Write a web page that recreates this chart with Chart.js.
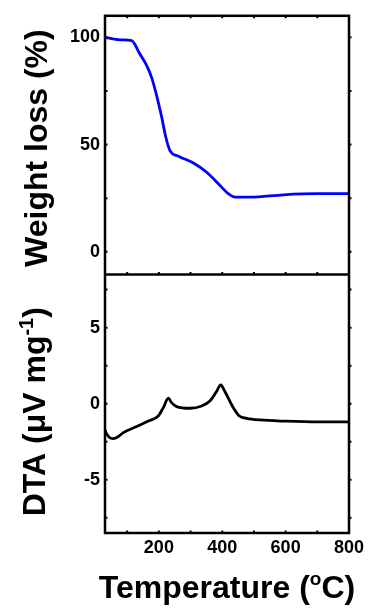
<!DOCTYPE html>
<html>
<head>
<meta charset="utf-8">
<title>TG / DTA</title>
<script src="https://cdn.jsdelivr.net/npm/chart.js@4/dist/chart.umd.min.js"></script>
<style>
  html, body { margin: 0; padding: 0; background: #fff; }
  canvas { display: block; }
</style>
</head>
<body>
<canvas id="chart" width="371" height="610"></canvas>
<script>
// Thermogravimetric curve: temperature (°C) and remaining weight (%)
const tgTemp   = [30, 83, 114, 140, 162, 177, 193, 209, 222, 235, 262, 309, 351, 393, 419, 440, 488, 593, 698, 800];
const tgWeight = [100, 98.8, 98.4, 92.2, 86.7, 81.3, 72.8, 62.7, 53.4, 47.2, 44.6, 41.4, 37.1, 30.9, 27.1, 25.5, 25.5, 26.6, 27.1, 27.1];

// Differential thermal analysis curve: temperature (°C) and signal (µV mg⁻¹)
const dtaTemp   = [30, 33, 54, 67, 88, 130, 167, 198, 214, 230, 240, 256, 298, 335, 361, 383, 395, 409, 435, 454, 477, 519, 600, 700, 800];
const dtaSignal = [-1.7, -1.9, -2.3, -2.23, -1.9, -1.5, -1.14, -0.81, -0.26, 0.36, 0.07, -0.19, -0.3, -0.15, 0.18, 0.84, 1.23, 0.77, -0.26, -0.81, -0.96, -1.07, -1.15, -1.2, -1.2];

// Tick marks and the subset that carries a label
const tempTicks    = [100, 200, 300, 400, 500, 600, 700, 800];
const tempLabels   = [200, 400, 600, 800];
const weightTicks  = [0, 25, 50, 75, 100];
const weightLabels = [0, 50, 100];
const dtaTicks     = [-7.5, -5, -2.5, 0, 2.5, 5, 7.5];
const dtaLabels    = [-5, 0, 5];

const FONT = "'Liberation Sans', Arial, Helvetica, sans-serif";
const tickFont = { family: FONT, size: 18, weight: 'bold' };

const toPoints = (xs, ys) => xs.map((x, i) => ({ x, y: ys[i] }));
const setTicks = values => scale => { scale.ticks = values.map(v => ({ value: v })); };
const labelOnly = labels => value => (labels.includes(value) ? String(value) : '');

// Frame, inner tick marks and axis titles are drawn by this plugin
const framePlugin = {
  id: 'frame',
  afterDraw(chart) {
    const ctx = chart.ctx;
    const area = chart.chartArea;
    const x = chart.scales.x, yTop = chart.scales.yWeight, yBot = chart.scales.yDta;
    const mid = yTop.bottom;
    const tick = 2.5;
    ctx.save();
    ctx.strokeStyle = '#000';
    ctx.lineWidth = 2.5;
    ctx.strokeRect(area.left, area.top, area.right - area.left, area.bottom - area.top);
    ctx.beginPath();
    ctx.moveTo(area.left, mid);
    ctx.lineTo(area.right, mid);
    ctx.stroke();

    ctx.lineWidth = 2;
    ctx.beginPath();
    tempTicks.forEach(v => {
      const px = x.getPixelForValue(v);
      ctx.moveTo(px, area.bottom); ctx.lineTo(px, area.bottom - tick);
      ctx.moveTo(px, mid);         ctx.lineTo(px, mid - tick);
      ctx.moveTo(px, area.top);    ctx.lineTo(px, area.top + tick);
    });
    [[yTop, weightTicks], [yBot, dtaTicks]].forEach(([s, vals]) => {
      vals.forEach(v => {
        const py = s.getPixelForValue(v);
        ctx.moveTo(area.left, py);  ctx.lineTo(area.left + tick, py);
        ctx.moveTo(area.right, py); ctx.lineTo(area.right + tick, py);
      });
    });
    ctx.stroke();

    // Axis titles
    ctx.fillStyle = '#000';
    ctx.textBaseline = 'alphabetic';
    const big = `bold 32px ${FONT}`;
    const small = `bold 20px ${FONT}`;

    // Weight loss (%)
    ctx.save();
    ctx.translate(47, (yTop.top + yTop.bottom) / 2 + 3);
    ctx.rotate(-Math.PI / 2);
    ctx.font = big;
    ctx.textAlign = 'center';
    ctx.fillText('Weight loss (%)', 0, 0);
    ctx.restore();

    // DTA (µV mg⁻¹) with a raised exponent
    ctx.save();
    ctx.translate(45, (yBot.top + yBot.bottom) / 2 + 8);
    ctx.rotate(-Math.PI / 2);
    ctx.textAlign = 'left';
    ctx.font = big;
    const a = 'DTA (\u03bcV mg', c = ')';
    const wa = ctx.measureText(a).width, wc = ctx.measureText(c).width;
    ctx.font = small;
    const b = '-1';
    const wb = ctx.measureText(b).width;
    let cx = -(wa + wb + wc) / 2;
    ctx.font = big;   ctx.fillText(a, cx, 0); cx += wa;
    ctx.font = small; ctx.fillText(b, cx, -12); cx += wb;
    ctx.font = big;   ctx.fillText(c, cx, 0);
    ctx.restore();

    // Temperature (°C) with a raised "o"
    ctx.save();
    ctx.textAlign = 'left';
    ctx.font = big;
    const t1 = 'Temperature (', t3 = 'C)';
    const w1 = ctx.measureText(t1).width, w3 = ctx.measureText(t3).width;
    ctx.font = `bold 19px ${FONT}`;
    const t2 = 'o';
    const w2 = ctx.measureText(t2).width;
    let tx = (area.left + area.right) / 2 - (w1 + w2 + w3) / 2;
    const ty = 598;
    ctx.font = big; ctx.fillText(t1, tx, ty); tx += w1;
    ctx.font = `bold 19px ${FONT}`; ctx.fillText(t2, tx, ty - 13); tx += w2;
    ctx.font = big; ctx.fillText(t3, tx, ty);
    ctx.restore();

    ctx.restore();
  }
};

new Chart(document.getElementById('chart'), {
  type: 'scatter',
  data: {
    datasets: [
      {
        label: 'TG',
        data: toPoints(tgTemp, tgWeight),
        yAxisID: 'yWeight',
        showLine: true,
        borderColor: '#0000ff',
        borderWidth: 2.8,
        pointRadius: 0,
        cubicInterpolationMode: 'monotone'
      },
      {
        label: 'DTA',
        data: toPoints(dtaTemp, dtaSignal),
        yAxisID: 'yDta',
        showLine: true,
        borderColor: '#000000',
        borderWidth: 2.8,
        pointRadius: 0,
        cubicInterpolationMode: 'monotone'
      }
    ]
  },
  options: {
    responsive: false,
    animation: false,
    devicePixelRatio: 1,
    layout: { padding: { top: 15, right: 22, left: 0, bottom: 0 } },
    plugins: { legend: { display: false }, tooltip: { enabled: false } },
    scales: {
      x: {
        type: 'linear',
        position: 'bottom',
        min: 30,
        max: 800,
        afterBuildTicks: setTicks(tempTicks),
        afterFit: s => { s.height = 77; },
        grid: { display: false, drawTicks: false },
        border: { display: false },
        ticks: {
          callback: labelOnly(tempLabels),
          autoSkip: false,
          maxRotation: 0,
          padding: 4,
          color: '#000',
          font: tickFont
        }
      },
      // the first axis of a stack is laid out at the bottom
      yDta: {
        type: 'linear',
        position: 'left',
        stack: 'panels',
        stackWeight: 1,
        min: -8.5,
        max: 8.5,
        afterBuildTicks: setTicks(dtaTicks),
        afterFit: s => { s.width = 105; },
        grid: { display: false, drawTicks: false },
        border: { display: false },
        ticks: { callback: labelOnly(dtaLabels), padding: 5, color: '#000', font: tickFont }
      },
      yWeight: {
        type: 'linear',
        position: 'left',
        stack: 'panels',
        stackWeight: 1,
        min: -10.5,
        max: 110,
        afterBuildTicks: setTicks(weightTicks),
        afterFit: s => { s.width = 105; },
        grid: { display: false, drawTicks: false },
        border: { display: false },
        ticks: { callback: labelOnly(weightLabels), padding: 5, color: '#000', font: tickFont }
      }
    }
  },
  plugins: [framePlugin]
});
</script>
</body>
</html>
